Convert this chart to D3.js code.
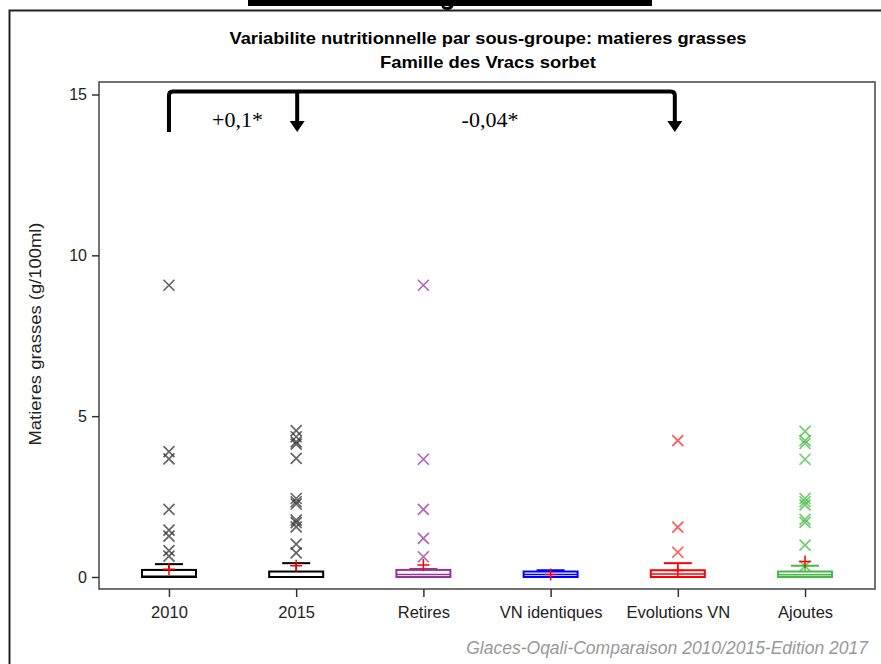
<!DOCTYPE html>
<html><head><meta charset="utf-8">
<script src="https://cdn.jsdelivr.net/npm/d3@7"></script>
<style>body{margin:0;background:#fff}svg{display:block}</style>
</head><body>
<svg id="c" width="881" height="664"></svg>
<script>
const categories = ["2010","2015","Retires","VN identiques","Evolutions VN","Ajoutes"];
const q1 = [0,0,0,0,0,0];
const medians = [0.02,0.01,0.08,0.08,0.09,0.07];
const q3 = [0.22,0.17,0.22,0.17,0.21,0.17];
const whiskerHigh = [0.40,0.43,0.25,0.21,0.43,0.35];
const means = [0.24,0.35,0.37,0.08,0.20,0.48];
const outliers = [
  [9.07,3.9,3.67,2.1,1.46,1.27,0.82,0.65],
  [4.55,4.36,4.2,4.13,3.69,2.44,2.34,2.27,1.77,1.69,1.56,1.02,0.75],
  [9.07,3.66,2.1,1.2,0.63],
  [],
  [4.24,1.55,0.77],
  [4.53,4.24,4.15,3.66,2.44,2.34,2.24,1.79,1.7,0.99,0.34]
];
const colors = ["#000000","#000000","#993399","#0000ff","#ff0000","#44bb44"];
const outlierColors = ["#333333","#333333","#993399","#0000ff","#ff2222","#44bb44"];
const yTicks = [0,5,10,15];
const annotations = ["+0,1*","-0,04*"];

const svg = d3.select("#c");
const SANS = "Liberation Sans, Arial, sans-serif";
// slide header remnant
svg.append("rect").attr("x",248).attr("y",0).attr("width",404).attr("height",6).attr("fill","#000");
svg.append("path").attr("d","M441,5 Q442,10 447,10 Q453,10 454,4 L451,4 Q450,7 447,7 Q444,7 444,5 Z").attr("fill","#000");
// outer frame
svg.append("path").attr("d","M9.5,664 V10.5 H881").attr("fill","none").attr("stroke","#222").attr("stroke-width",2);

const L=99,R=875,T=82,B=589;
const x = d3.scalePoint().domain(categories).range([L,R]).padding(0.55);
const y = d3.scaleLinear().domain([0,15]).range([577,94.5]);

// titles
svg.append("text").attr("x",488).attr("y",44).attr("text-anchor","middle")
  .attr("font-family",SANS).attr("font-weight","bold").attr("font-size",17)
  .attr("textLength",517).attr("lengthAdjust","spacingAndGlyphs")
  .text("Variabilite nutritionnelle par sous-groupe: matieres grasses");
svg.append("text").attr("x",488).attr("y",68).attr("text-anchor","middle")
  .attr("font-family",SANS).attr("font-weight","bold").attr("font-size",17)
  .attr("textLength",216).attr("lengthAdjust","spacingAndGlyphs")
  .text("Famille des Vracs sorbet");

// plot frame
svg.append("rect").attr("x",L).attr("y",T).attr("width",R-L).attr("height",B-T)
  .attr("fill","none").attr("stroke","#444").attr("stroke-width",1.5);

// y axis
const ya = svg.append("g").attr("transform",`translate(${L},0)`)
  .call(d3.axisLeft(y).tickValues(yTicks).tickSize(7).tickPadding(5));
ya.select(".domain").remove();
ya.selectAll("line").attr("stroke","#333").attr("stroke-width",1.5);
ya.selectAll("text").attr("font-family",SANS).attr("font-size",16).attr("fill","#222");

// x axis
const xa = svg.append("g").attr("transform",`translate(0,${B})`)
  .call(d3.axisBottom(x).tickSize(8).tickPadding(9));
xa.select(".domain").remove();
xa.selectAll("line").attr("stroke","#333").attr("stroke-width",1.5);
xa.selectAll("text").attr("font-family",SANS).attr("font-size",16.5).attr("fill","#222");

// y label
svg.append("text").attr("transform","translate(41,334) rotate(-90)").attr("text-anchor","middle")
  .attr("font-family",SANS).attr("font-size",17).attr("fill","#222")
  .attr("textLength",223).attr("lengthAdjust","spacingAndGlyphs")
  .text("Matieres grasses (g/100ml)");

// boxes
const bw = 54, cw = 28;
categories.forEach((c,i)=>{
  const g = svg.append("g");
  const cx = x(c), col = colors[i];
  g.append("line").attr("x1",cx).attr("x2",cx).attr("y1",y(q3[i])).attr("y2",y(whiskerHigh[i])).attr("stroke",col).attr("stroke-width",1.5);
  g.append("line").attr("x1",cx-cw/2).attr("x2",cx+cw/2).attr("y1",y(whiskerHigh[i])).attr("y2",y(whiskerHigh[i])).attr("stroke",col).attr("stroke-width",2);
  g.append("rect").attr("x",cx-bw/2).attr("y",y(q3[i])).attr("width",bw).attr("height",y(q1[i])-y(q3[i]))
    .attr("fill","#fff").attr("stroke",col).attr("stroke-width",2);
  g.append("line").attr("x1",cx-bw/2).attr("x2",cx+bw/2).attr("y1",y(medians[i])).attr("y2",y(medians[i])).attr("stroke",col).attr("stroke-width",1.5);
  outliers[i].forEach(v=>{
    const py = y(v), s=5.5;
    g.append("path").attr("d",`M${cx-s},${py-s}L${cx+s},${py+s}M${cx-s},${py+s}L${cx+s},${py-s}`)
      .attr("stroke",outlierColors[i]).attr("stroke-width",1.7).attr("stroke-opacity",0.75).attr("fill","none");
  });
  const my = y(means[i]);
  g.append("path").attr("d",`M${cx-6},${my}H${cx+6}M${cx},${my-6}V${my+6}`).attr("stroke","#ff0000").attr("stroke-width",1.5);
});

// bracket annotation
const bx0 = x(categories[0]), bx1 = x(categories[1])+1, bx2 = x(categories[4])-3;
const by = 91.5;
svg.append("path").attr("d",`M${bx0},132 V${by+4} Q${bx0},${by} ${bx0+4},${by} H${bx2-4} Q${bx2},${by} ${bx2},${by+4} V124`)
  .attr("fill","none").attr("stroke","#000").attr("stroke-width",4);
svg.append("path").attr("d",`M${bx1},${by} V124`).attr("fill","none").attr("stroke","#000").attr("stroke-width",4);
[bx1,bx2].forEach(ax=>{
  svg.append("path").attr("d",`M${ax-7.5},121 L${ax+7.5},121 L${ax},132 Z`).attr("fill","#000");
});
svg.append("text").attr("x",237.5).attr("y",127).attr("text-anchor","middle")
  .attr("font-family","Liberation Serif, Times New Roman, serif").attr("font-size",22).text(annotations[0]);
svg.append("text").attr("x",490).attr("y",127).attr("text-anchor","middle")
  .attr("font-family","Liberation Serif, Times New Roman, serif").attr("font-size",22).text(annotations[1]);

// footnote
svg.append("text").attr("x",868).attr("y",654).attr("text-anchor","end")
  .attr("font-family",SANS).attr("font-style","italic").attr("font-size",17.5).attr("fill","#999")
  .text("Glaces-Oqali-Comparaison 2010/2015-Edition 2017");
</script>
</body></html>
